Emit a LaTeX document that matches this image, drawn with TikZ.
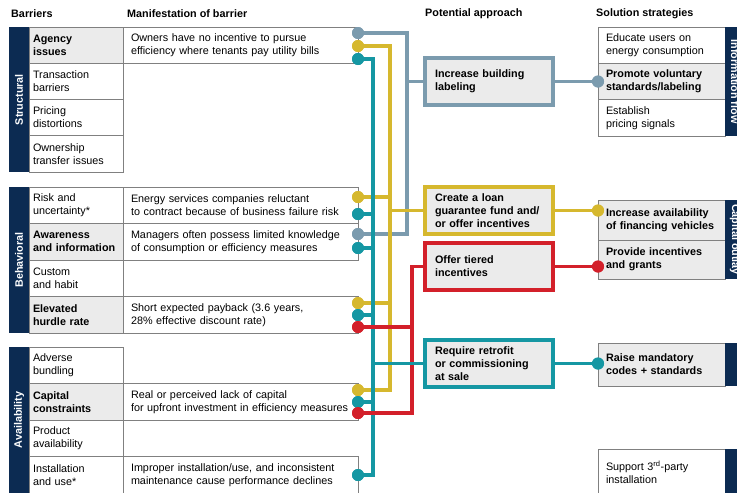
\documentclass[tikz,border=0pt]{standalone}
\usepackage{fontspec}
\setmainfont{Liberation Sans}
\usetikzlibrary{calc}
\definecolor{navy}{HTML}{0C2B52}
\definecolor{gridc}{HTML}{808080}
\definecolor{lfill}{HTML}{EBEBEB}
\definecolor{greyc}{HTML}{7B9BAE}
\definecolor{yelc}{HTML}{D6B82E}
\definecolor{tealc}{HTML}{1597A3}
\definecolor{redc}{HTML}{D3202A}
\newcommand{\fs}{\fontsize{10.8}{13}\selectfont}
\begin{document}
\begin{tikzpicture}[x=1pt,y=-1pt,
  hdr/.style={anchor=west, inner sep=0pt, font=\fs\bfseries},
  bcell/.style={draw=gridc, line width=0.7pt, outer sep=0pt, anchor=north west, align=left,
    inner xsep=4pt, inner ysep=0pt, text width=86pt, font=\fs},
  mcell/.style={draw=gridc, line width=0.7pt, outer sep=0pt, anchor=north west, align=left,
    inner xsep=8pt, inner ysep=0pt, text width=219pt, font=\fs},
  scell/.style={draw=gridc, line width=0.7pt, outer sep=0pt, anchor=north west, align=left,
    inner xsep=8pt, inner ysep=0pt, text width=111pt, font=\fs},
  hl/.style={fill=lfill, font=\fs\bfseries},
  bar/.style={fill=navy, text=white, inner sep=0pt, outer sep=0pt, font=\fs\bfseries},
  abox/.style={fill=lfill, line width=3.3pt, outer sep=0pt, anchor=north west, align=left,
    inner xsep=10pt, inner ysep=0pt, text width=108pt, minimum height=47pt,
    font=\fs\bfseries},
  dot/.style={circle, inner sep=0pt, outer sep=0pt, minimum size=12pt},
  conn/.style={line width=3.2pt}
]
\useasboundingbox (0,0) rectangle (737,493);
\clip (0,0) rectangle (737,493);

% headers
\node[hdr] (h1) at (11,14) {Barriers};
\node[hdr] (h2) at (127,14) {Manifestation of barrier};
\node[hdr] (h3) at (425,14) {Potential approach};
\node[hdr] (h4) at (596,14) {Solution strategies};

% left bars
\node[bar, rotate=90, minimum width=145pt, minimum height=20pt] (sbar) at (19,99.5) {Structural};
\node[bar, rotate=90, minimum width=146pt, minimum height=20pt] (bbar) at (19,260) {Behavioral};
\node[bar, rotate=90, minimum width=146pt, minimum height=20pt] (abar) at (19,420) {Availability};

% barrier cells
\node[bcell, hl, minimum height=36.25pt] (agency) at (29,27) {Agency\\issues};
\node[bcell, minimum height=36.25pt] (trans) at (29,63.25) {Transaction\\barriers};
\node[bcell, minimum height=36.25pt] (pricing) at (29,99.5) {Pricing\\distortions};
\node[bcell, minimum height=36.25pt] (owner) at (29,135.75) {Ownership\\transfer issues};

\node[bcell, minimum height=36.5pt] (risk) at (29,187) {Risk and\\uncertainty*};
\node[bcell, hl, minimum height=36.5pt] (aware) at (29,223.5) {Awareness\\and information};
\node[bcell, minimum height=36.5pt] (custom) at (29,260) {Custom\\and habit};
\node[bcell, hl, minimum height=36.5pt] (hurdle) at (29,296.5) {Elevated\\hurdle rate};

\node[bcell, minimum height=36.5pt] (adverse) at (29,347) {Adverse\\bundling};
\node[bcell, hl, minimum height=36.5pt] (capital) at (29,383.5) {Capital\\constraints};
\node[bcell, minimum height=36.5pt] (product) at (29,420) {Product\\availability};
\node[bcell, minimum height=36.5pt] (install) at (29,456.5) {Installation\\and use*};

% manifestation cells
\node[mcell, minimum height=36.25pt] (agencyM) at (123,27) {Owners have no incentive to pursue\\efficiency where tenants pay utility bills};
\node[mcell, minimum height=36.5pt] (riskM) at (123,187) {Energy services companies reluctant\\to contract because of business failure risk};
\node[mcell, minimum height=36.5pt] (awareM) at (123,223.5) {Managers often possess limited knowledge\\of consumption or efficiency measures};
\node[mcell, minimum height=36.5pt] (hurdleM) at (123,296.5) {Short expected payback (3.6 years,\\28\% effective discount rate)};
\node[mcell, minimum height=36.5pt] (capM) at (123,383.5) {Real or perceived lack of capital\\for upfront investment in efficiency measures};
\node[mcell, minimum height=36.5pt] (instM) at (123,456.5) {Improper installation/use, and inconsistent\\maintenance cause performance declines};

% approach boxes
\node[abox, draw=greyc] (app1) at (425,58) {Increase building\\labeling};
\node[abox, draw=yelc] (app2) at (425,187) {Create a loan\\guarantee fund and/\\or offer incentives};
\node[abox, draw=redc] (app3) at (425,243) {Offer tiered\\incentives};
\node[abox, draw=tealc] (app4) at (425,340) {Require retrofit\\or commissioning\\at sale};

% solution cells
\node[scell, minimum height=36.3pt] (sol1) at (598,27) {Educate users on\\energy consumption};
\node[scell, hl, minimum height=36.3pt] (sol2) at (598,63.3) {Promote voluntary\\standards/labeling};
\node[scell, minimum height=36.3pt] (sol3) at (598,99.6) {Establish\\pricing signals};
\node[scell, hl, minimum height=40pt] (sol4) at (598,200) {Increase availability\\of financing vehicles};
\node[scell, hl, minimum height=39pt] (sol5) at (598,240) {Provide incentives\\and grants};
\node[scell, hl, minimum height=43pt] (sol6) at (598,343) {Raise mandatory\\codes + standards};
\node[scell, minimum height=46pt] (sol7) at (598,449) {Support 3\textsuperscript{rd}-party\\installation};

% right bars
\node[bar, rotate=-90, minimum width=109pt, minimum height=20pt] (ibar) at (735,81.5) {Information flow};
\node[bar, rotate=-90, minimum width=79pt, minimum height=20pt] (cbar) at (735,239.5) {Capital outlay};
\node[bar, rotate=-90, minimum width=43pt, minimum height=20pt] (rbar) at (735,364.5) {};
\node[bar, rotate=-90, minimum width=46pt, minimum height=20pt] (ubar) at (735,472) {};

% dots (left)
\node[dot, fill=greyc] (ag1) at (358,33) {};
\node[dot, fill=yelc]  (ag2) at (358,46) {};
\node[dot, fill=tealc] (ag3) at (358,59) {};
\node[dot, fill=yelc]  (ri1) at (358,197) {};
\node[dot, fill=tealc] (ri2) at (358,214) {};
\node[dot, fill=greyc] (aw1) at (358,234) {};
\node[dot, fill=tealc] (aw2) at (358,248) {};
\node[dot, fill=yelc]  (hu1) at (358,303) {};
\node[dot, fill=tealc] (hu2) at (358,315) {};
\node[dot, fill=redc]  (hu3) at (358,327) {};
\node[dot, fill=yelc]  (ca1) at (358,390) {};
\node[dot, fill=tealc] (ca2) at (358,402) {};
\node[dot, fill=redc]  (ca3) at (358,413) {};
\node[dot, fill=tealc] (in1) at (358,475) {};
% dots (right)
\node[dot, fill=greyc] (so1) at (598,81.5) {};
\node[dot, fill=yelc]  (so2) at (598,210.5) {};
\node[dot, fill=redc]  (so3) at (598,266.5) {};
\node[dot, fill=tealc] (so4) at (598,363.5) {};

% junction coordinates
\coordinate (gT) at (407,33);  \coordinate (gB) at (407,234);
\coordinate (yT) at (390,46);  \coordinate (yB) at (390,390);
\coordinate (tT) at (373,59);  \coordinate (tB) at (373,475);
\coordinate (rB) at (412,413);

% grey
\draw[conn, greyc] (ag1.center) -- (gT) -- (gB) -- (aw1.center);
\draw[conn, greyc] (gT |- app1.west) -- (app1.west);
\draw[conn, greyc] (app1.east) -- (so1.center);
% yellow
\draw[conn, yelc] (ag2.center) -- (yT) -- (yB) -- (ca1.center);
\draw[conn, yelc] (ri1.center) -- (ri1.center -| yT);
\draw[conn, yelc] (hu1.center) -- (hu1.center -| yT);
\draw[conn, yelc] (yT |- app2.west) -- (app2.west);
\draw[conn, yelc] (app2.east) -- (so2.center);
% teal
\draw[conn, tealc] (ag3.center) -- (tT) -- (tB) -- (in1.center);
\draw[conn, tealc] (ri2.center) -- (ri2.center -| tT);
\draw[conn, tealc] (aw2.center) -- (aw2.center -| tT);
\draw[conn, tealc] (hu2.center) -- (hu2.center -| tT);
\draw[conn, tealc] (ca2.center) -- (ca2.center -| tT);
% red
\draw[conn, redc] (app3.west) -- (app3.west -| rB) -- (rB) -- (ca3.center);
\draw[conn, redc] (hu3.center) -- (hu3.center -| rB);
\draw[conn, redc] (app3.east) -- (so3.center);
% teal to approach
\draw[conn, tealc] (tT |- app4.west) -- (app4.west);
\draw[conn, tealc] (app4.east) -- (so4.center);

% dots on top of the lines
\foreach \d/\c in {ag1/greyc,ag2/yelc,ag3/tealc,ri1/yelc,ri2/tealc,aw1/greyc,aw2/tealc,hu1/yelc,hu2/tealc,hu3/redc,ca1/yelc,ca2/tealc,ca3/redc,in1/tealc,so1/greyc,so2/yelc,so3/redc,so4/tealc}
  \fill[\c] (\d.center) circle (6pt);
\end{tikzpicture}
\end{document}
